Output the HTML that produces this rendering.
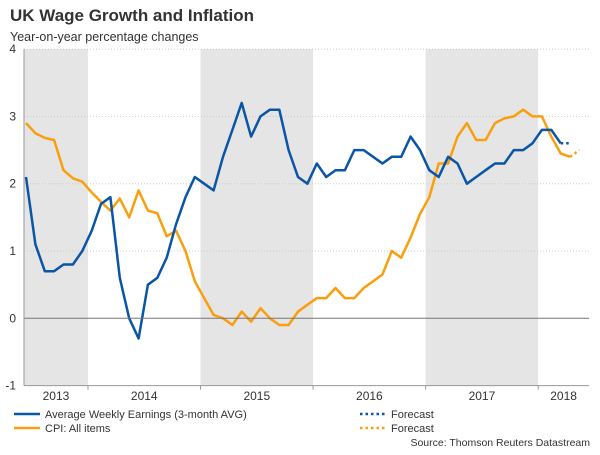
<!DOCTYPE html>
<html><head><meta charset="utf-8"><style>
body{margin:0;background:#fff;font-family:"Liberation Sans",sans-serif}
text{font-family:"Liberation Sans",sans-serif}
</style></head><body>
<svg id="chart" width="600" height="450" xmlns="http://www.w3.org/2000/svg">
<text x="10" y="21" font-size="17" font-weight="bold" fill="#333">UK Wage Growth and Inflation</text>
<text x="10" y="41" font-size="12.5" fill="#333">Year-on-year percentage changes</text>
<g id="bands"></g><g id="grid"></g><g id="series"></g><g id="axes"></g>
<g font-size="11" fill="#333">
<line x1="14" y1="414" x2="40" y2="414" stroke="#0a55a5" stroke-width="2.5"/>
<text x="45" y="418">Average Weekly Earnings (3-month AVG)</text>
<line x1="14" y1="428" x2="40" y2="428" stroke="#f99f0e" stroke-width="2.5"/>
<text x="45" y="432">CPI: All items</text>
<line x1="360" y1="414" x2="386" y2="414" stroke="#0a55a5" stroke-width="2.5" stroke-dasharray="2.5,3"/>
<text x="391" y="418">Forecast</text>
<line x1="360" y1="428" x2="386" y2="428" stroke="#f99f0e" stroke-width="2.5" stroke-dasharray="2.5,3"/>
<text x="391" y="432">Forecast</text>
</g>
<text x="590" y="446" font-size="10.5" fill="#333" text-anchor="end">Source: Thomson Reuters Datastream</text>
</svg>
<script>
const awe=[2.1,1.1,0.7,0.7,0.8,0.8,1.0,1.3,1.7,1.8,0.6,0.0,-0.3,0.5,0.6,0.9,1.4,1.8,2.1,2.0,1.9,2.4,2.8,3.2,2.7,3.0,3.1,3.1,2.5,2.1,2.0,2.3,2.1,2.2,2.2,2.5,2.5,2.4,2.3,2.4,2.4,2.7,2.5,2.2,2.1,2.4,2.3,2.0,2.1,2.2,2.3,2.3,2.5,2.5,2.6,2.8,2.8,2.6];
const aweForecast=[2.6,2.6];
const cpi=[2.9,2.75,2.68,2.65,2.2,2.08,2.03,1.87,1.73,1.6,1.78,1.5,1.9,1.6,1.56,1.22,1.3,1.0,0.55,0.3,0.05,0.0,-0.1,0.1,-0.05,0.15,0.0,-0.1,-0.1,0.1,0.2,0.3,0.3,0.45,0.3,0.3,0.45,0.55,0.65,1.0,0.9,1.2,1.55,1.8,2.3,2.3,2.7,2.9,2.65,2.65,2.9,2.97,3.0,3.1,3.0,3.0,2.7,2.45,2.4];
const cpiForecast=[2.4,2.5];
const yTicks=[-1,0,1,2,3,4];
const years=["2013","2014","2015","2016","2017","2018"];
const yearStartMonth=[-5,7,19,31,43,55];
const NS="http://www.w3.org/2000/svg";
const X0=26,MW=9.38,L=24,R=589;
const x=i=>X0+MW*i;
const y=v=>318.3-67.3*v;
function mk(tag,attrs,parent){const e=document.createElementNS(NS,tag);for(const k in attrs)e.setAttribute(k,attrs[k]);document.getElementById(parent).appendChild(e);return e;}
for(let k=0;k<years.length-1;k++){
  if(k%2==0){
    const a=Math.max(L,x(yearStartMonth[k])-MW/2+1), b=Math.min(R,x(yearStartMonth[k]+12)-MW/2+1);
    const r=mk('rect',{x:a,y:y(4),width:b-a,height:y(-1)-y(4),fill:'#e5e5e5'},'bands');
    
    
  }
}
yTicks.forEach(v=>{
  if(v>0){const g=mk('line',{x1:L,x2:R,y1:y(v),y2:y(v),stroke:'#ccc','stroke-dasharray':'1,2'},'grid');
  
  }
  const t=mk('text',{x:16,y:y(v)+4,'font-size':12,fill:'#333','text-anchor':'end'},'axes');
  t.textContent=v;
  
  
});
const z=mk('line',{x1:L,x2:R,y1:y(0),y2:y(0),stroke:'#777','stroke-width':1},'axes');


const ya=mk('line',{x1:L,x2:L,y1:y(4),y2:y(-1),stroke:'#999'},'axes');


const xa=mk('line',{x1:L,x2:R,y1:y(-1),y2:y(-1),stroke:'#999'},'axes');


years.forEach((yr,k)=>{
  const a=Math.max(L,x(yearStartMonth[k])-MW/2+1), b=Math.min(R,x(yearStartMonth[k]+12)-MW/2+1);
  if(k>0){const tk=mk('line',{x1:a,x2:a,y1:y(-1),y2:y(-1)+4,stroke:'#999'},'axes');
  
  }
  const t=mk('text',{x:(a+b)/2,y:400,'font-size':12,fill:'#333','text-anchor':'middle'},'axes');
  t.textContent=yr;
  
  
});
function line(arr,off,color,dash,name){
  const d=arr.map((v,i)=>(i?'L':'M')+x(i+off).toFixed(1)+','+y(v).toFixed(1)).join(' ');
  const p=mk('path',{d:d,fill:'none',stroke:color,'stroke-width':2.5,'stroke-linejoin':'round'},'series');
  if(dash)p.setAttribute('stroke-dasharray',dash);
  
  
}
line(cpi,0,'#f99f0e',null,'cpi-line');
line(cpiForecast,cpi.length-1,'#f99f0e','2.5,3','cpi-forecast-line');
line(awe,0,'#0a55a5',null,'awe-line');
line(aweForecast,awe.length-1,'#0a55a5','2.5,3','awe-forecast-line');
</script>
</body></html>
